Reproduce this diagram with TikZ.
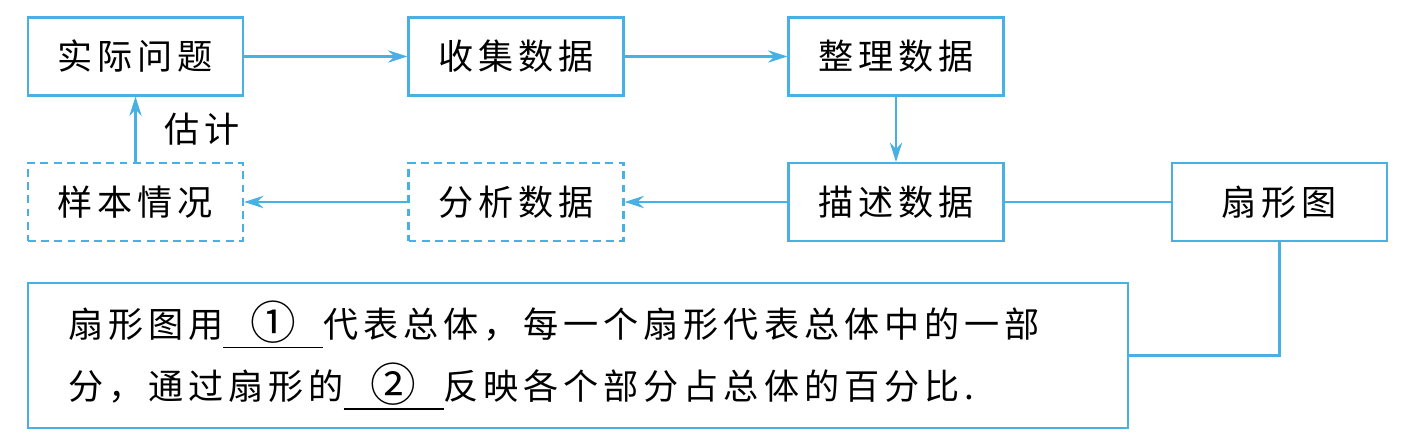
\documentclass[tikz,border=0pt]{standalone}
\usepackage{fontspec}
\usetikzlibrary{arrows.meta}
\newfontfamily\cjk[LetterSpace=14]{Noto Sans CJK SC}
\definecolor{lineblue}{RGB}{72,176,226}
\newcommand\fillblank[1]{\makebox[2cm]{\raisebox{-1pt}{\scalebox{1.3}{#1}}}\hspace{-2cm}\rule[-6pt]{2cm}{1pt}}

\begin{document}
\begin{tikzpicture}[x=0.02cm, y=-0.02cm, >={Stealth[length=11pt, width=7pt]}, line width=1.25pt]
    \tikzset{
        box/.style={draw=lineblue, rectangle, minimum width=4.3cm, minimum height=1.56cm, inner sep=0pt, font=\cjk\fontsize{20}{24}\selectfont},
        dash_box/.style={box, dash pattern=on 4.5pt off 3pt},
        link/.style={draw=lineblue, ->},
        plain_link/.style={draw=lineblue},
        note_box/.style={draw=lineblue, rectangle, minimum width=22cm, minimum height=2.9cm, text width=20.4cm, inner xsep=0.8cm, align=left, font=\cjk\fontsize{20}{35}\selectfont}
    }
    \useasboundingbox (0,0) rectangle (1418,439);

    % top row
    \node[box] (real) at (135.5, 56.5) {实际问题};
    \node[box] (collect) at (516, 56.5) {收集数据};
    \node[box] (sort) at (896, 56.5) {整理数据};

    % middle row
    \node[dash_box] (sample) at (135.5, 202) {样本情况};
    \node[dash_box] (analyze) at (516, 202) {分析数据};
    \node[box] (describe) at (896, 202) {描述数据};
    \node[box] (pie) at (1279.5, 202) {扇形图};

    % note
    \node[note_box] (note) at (578, 355.5) {扇形图用\fillblank{①}代表总体，每一个扇形代表总体中的一部\\分，通过扇形的\fillblank{②}反映各个部分占总体的百分比.};

    \draw[link] (real) -- (collect);
    \draw[link] (collect) -- (sort);
    \draw[link] (sort) -- (describe);
    \draw[link] (describe) -- (analyze);
    \draw[link] (analyze) -- (sample);
    \draw[link] (sample) -- (real)
        node[midway, right=0.45cm, font=\cjk\fontsize{20}{24}\selectfont] (est) {估计};
    \draw[plain_link] (describe) -- (pie);
    \draw[plain_link] (pie.south) |- (note.east);
\end{tikzpicture}
\end{document}
